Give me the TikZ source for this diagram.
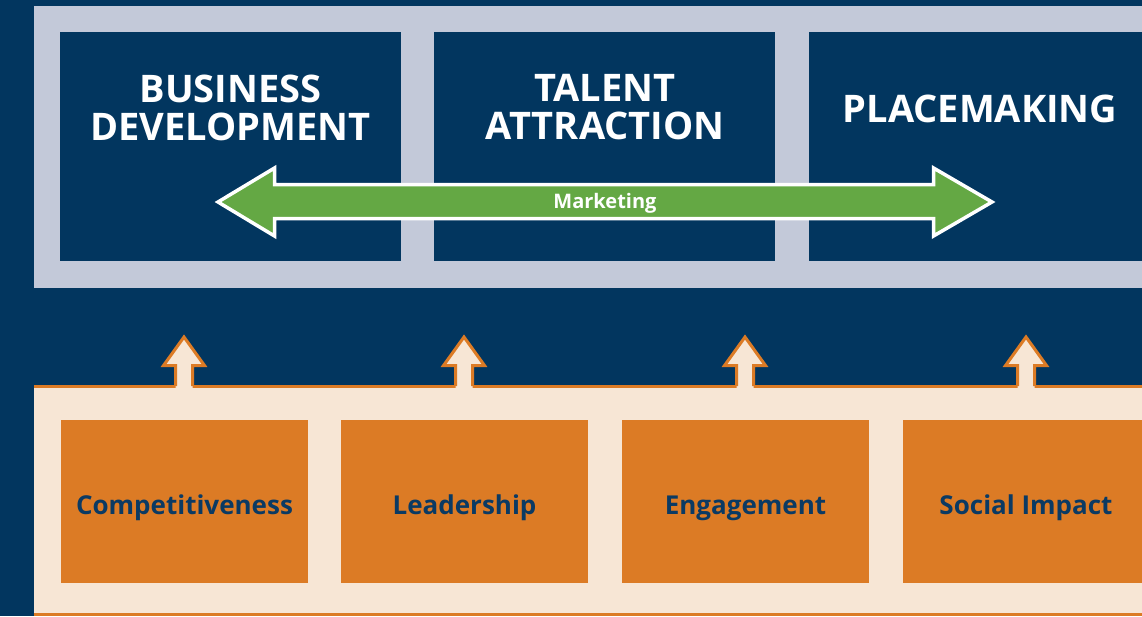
\documentclass[tikz,border=0pt]{standalone}
\usepackage{fontspec}
\setmainfont{Open Sans}
\begin{document}
\definecolor{navy}{HTML}{02365F}
\definecolor{slate}{HTML}{C3C9D9}
\definecolor{leaf}{HTML}{64A844}
\definecolor{amber}{HTML}{DC7B25}
\definecolor{cream}{HTML}{F7E6D5}
\definecolor{inkblue}{HTML}{0B3A63}
\begin{tikzpicture}[x=1pt,y=-1pt,
  band/.style={fill=slate,draw=none},
  pillar/.style={fill=navy,draw=none},
  pillartext/.style={text=white,font=\fontsize{38}{38}\selectfont\bfseries,align=center,inner sep=0pt},
  basebox/.style={fill=amber,draw=none},
  basetext/.style={text=inkblue,font=\fontsize{26}{26}\selectfont\bfseries,inner sep=0pt,anchor=base},
  uparrow/.style={fill=cream,draw=amber,line width=3pt,line join=miter},
  twoway/.style={fill=leaf,draw=white,line width=3.5pt,line join=miter}]
% page and background
\useasboundingbox (0,0) rectangle (1142,616);
\fill[navy] (0,0) rectangle (1142,616);

% upper band with the three pillars
\fill[band] (34,6) rectangle (1142,288);
\fill[pillar] (60,32) rectangle (401,261);
\fill[pillar] (434,32) rectangle (775,261);
\fill[pillar] (809,32) rectangle (1142,261);
\node[pillartext] (bd) at (230.5,107.5) {BUSINESS\\DEVELOPMENT};
\node[pillartext] (ta) at (605,107.5) {TALENT\\ATTRACTION};
\node[pillartext] (pm) at (980,108.5) {PLACEMAKING};

% double-headed marketing arrow
\draw[twoway] (218,202) -- (274.5,168) -- (274.5,184.5) -- (933.5,184.5) -- (933.5,168)
  -- (992,202) -- (933.5,236) -- (933.5,218.5) -- (274.5,218.5) -- (274.5,236) -- cycle;
\node[text=white,font=\fontsize{20}{20}\selectfont\bfseries,inner sep=0pt,anchor=base] (mk) at (605,208) {Marketing};

% lower band with its orange rims
\fill[cream] (34,386) rectangle (1142,614);
\draw[amber,line width=3pt] (34,386) -- (1142,386);
\draw[amber,line width=3pt] (34,614.5) -- (1142,614.5);

% upward arrows rising from the lower band
\foreach \c in {184,464,745,1026}{
  \fill[cream] (\c,337) -- (\c+20.5,365.5) -- (\c+8.5,365.5) -- (\c+8.5,389)
    -- (\c-8.5,389) -- (\c-8.5,365.5) -- (\c-20.5,365.5) -- cycle;
  \draw[uparrow,fill=none] (\c+8.5,386) -- (\c+8.5,365.5) -- (\c+20.5,365.5)
    -- (\c,337) -- (\c-20.5,365.5) -- (\c-8.5,365.5) -- (\c-8.5,386);
}

% foundation boxes
\fill[basebox] (61,420) rectangle (308,583);
\fill[basebox] (341,420) rectangle (588,583);
\fill[basebox] (622,420) rectangle (869,583);
\fill[basebox] (903,420) rectangle (1142,583);
\node[basetext] (cp) at (184.5,514) {Competitiveness};
\node[basetext] (ld) at (464.5,514) {Leadership};
\node[basetext] (en) at (745.5,514) {Engagement};
\node[basetext] (si) at (1026,514) {Social Impact};
\end{tikzpicture}
\end{document}
